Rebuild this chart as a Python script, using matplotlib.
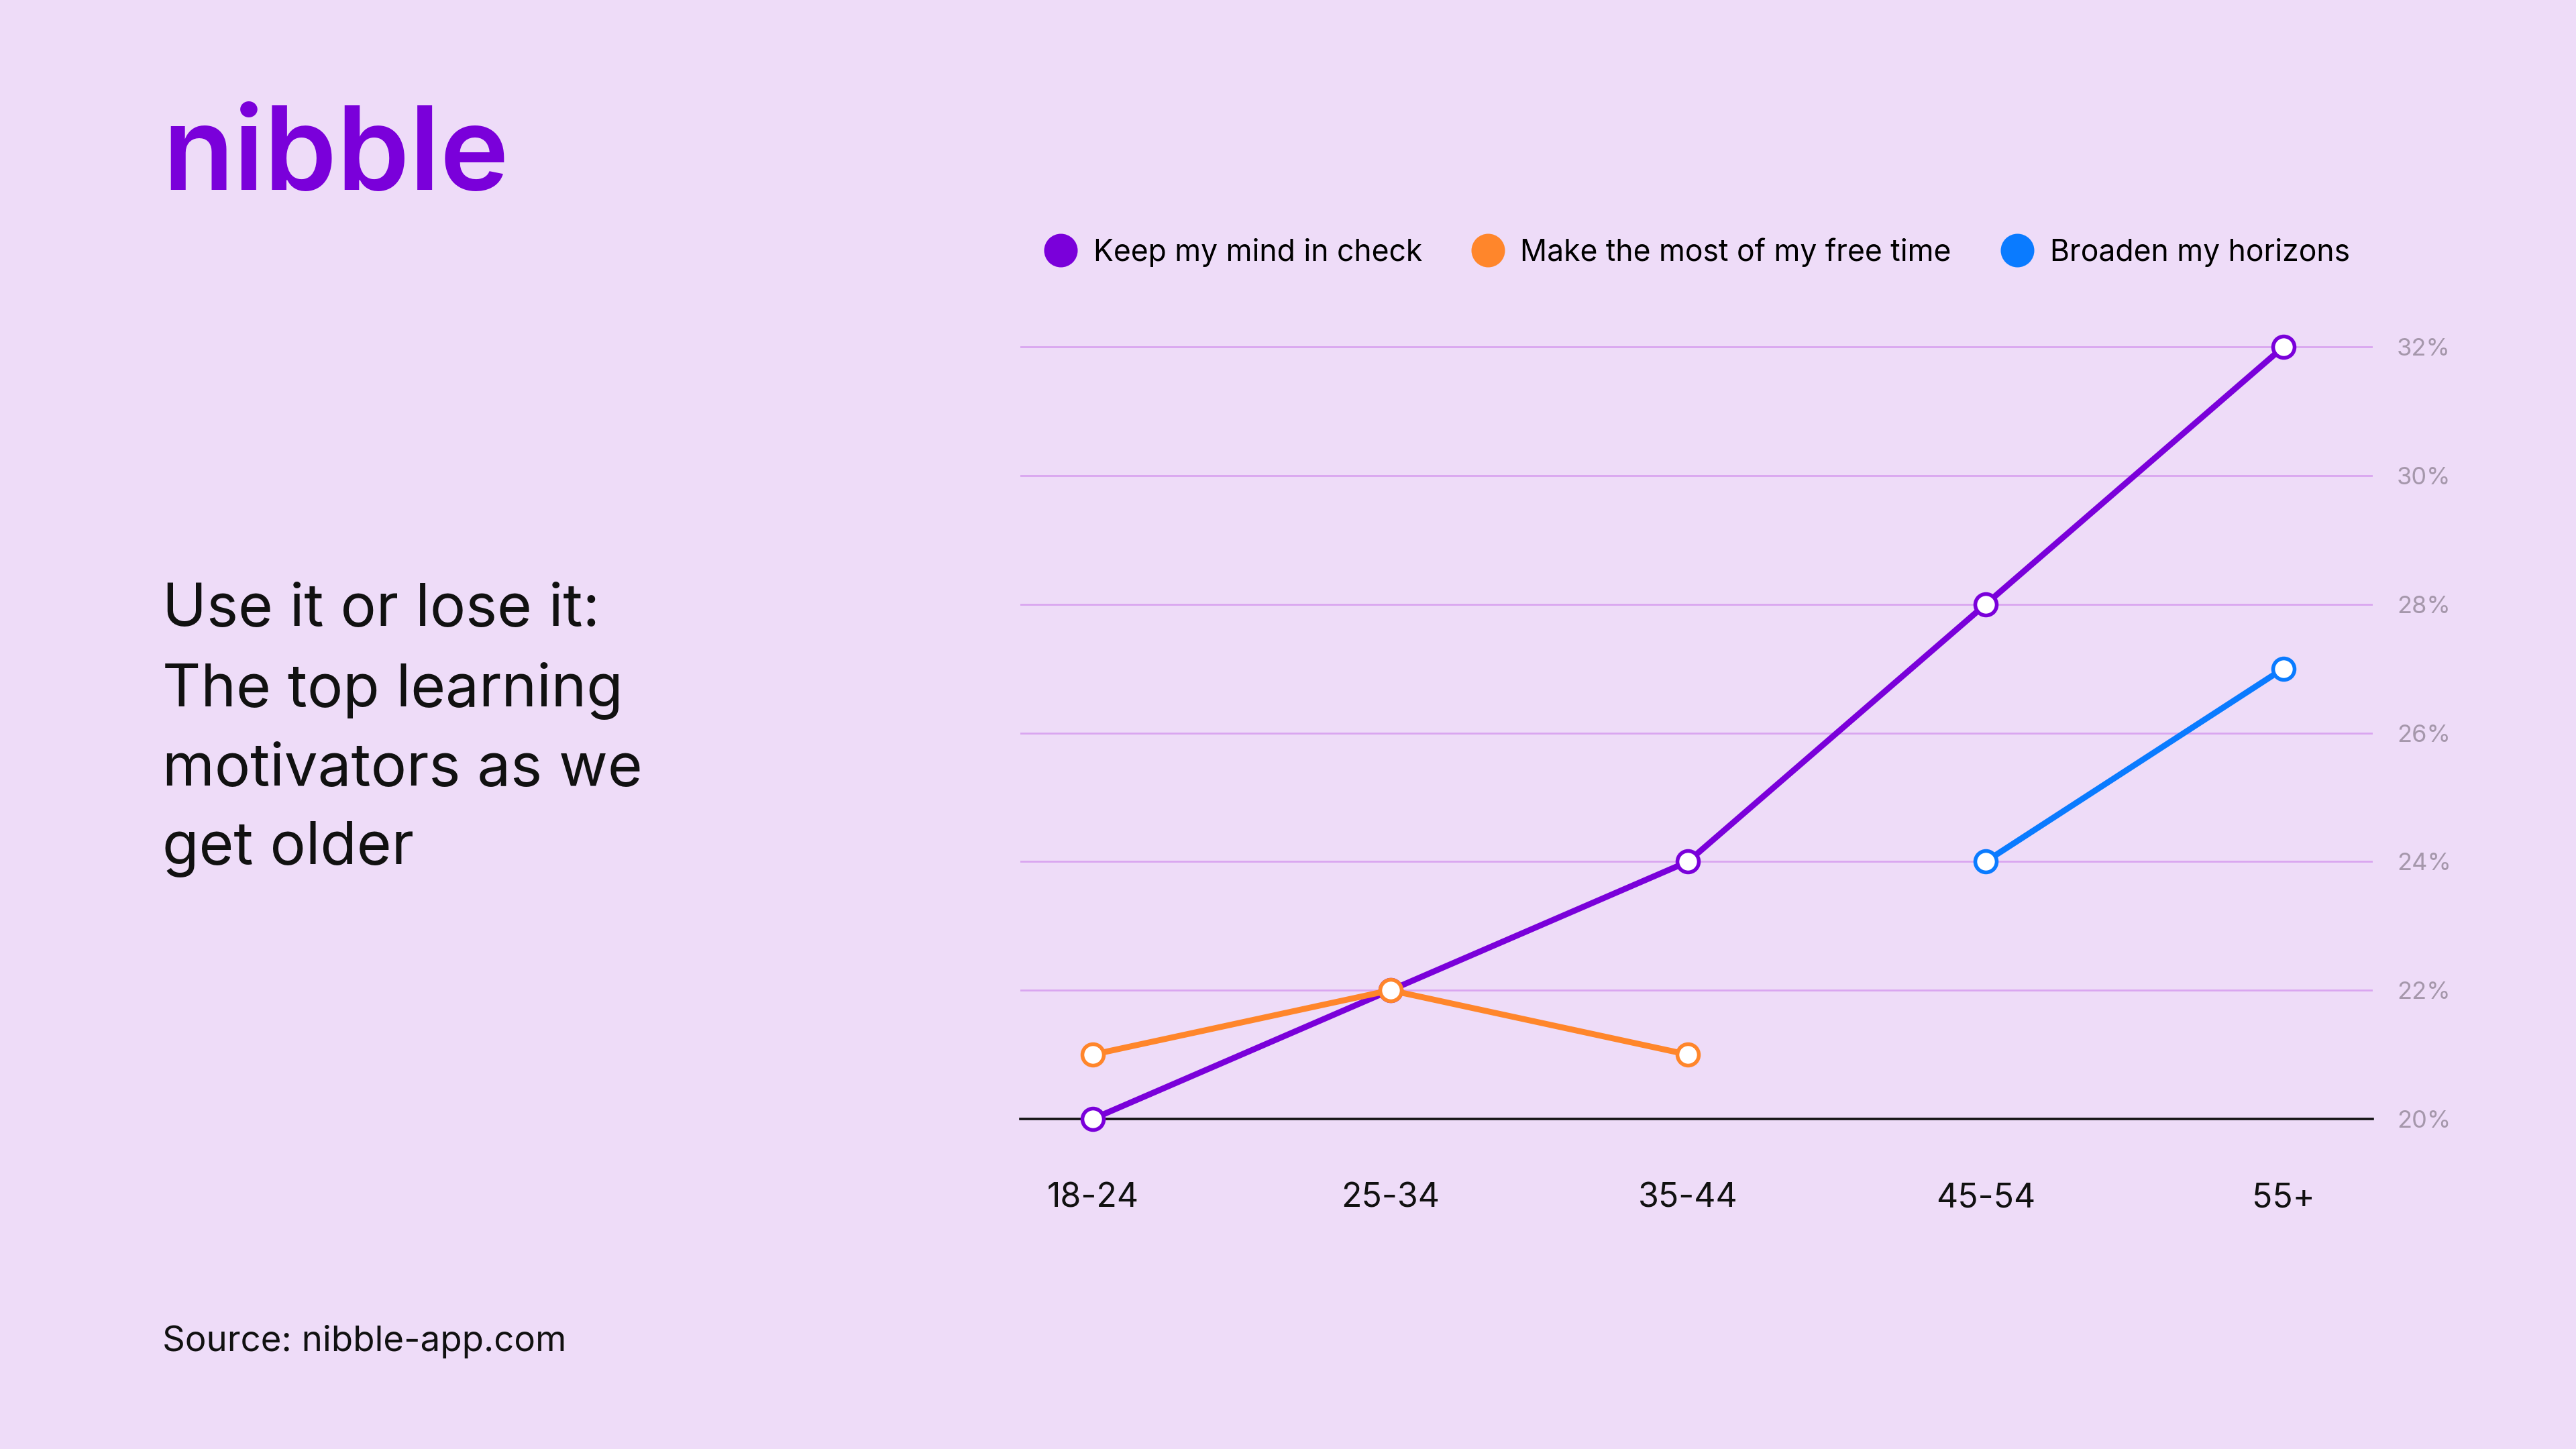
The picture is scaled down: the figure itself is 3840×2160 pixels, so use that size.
import matplotlib.pyplot as plt
from matplotlib.lines import Line2D

plt.rcParams['font.family'] = ['Inter', 'DejaVu Sans']

# data
age_groups = ["18-24", "25-34", "35-44", "45-54", "55+"]
mind_check = [20, 22, 24, 28, 32]
free_time = [21, 22, 21]
horizons = [24, 27]
y_ticks = [20, 22, 24, 26, 28, 30, 32]

bg = "#eedcf8"
purple = "#7a00da"
orange = "#ff862b"
blue = "#0a7bff"

fig = plt.figure(figsize=(19.2, 10.8), dpi=200, facecolor=bg)
ax = fig.add_axes([0.396, 0.2278, 0.525, 0.546])
ax.set_facecolor(bg)

x = list(range(len(age_groups)))
mk = dict(marker='o', markersize=11.5, markerfacecolor='white',
          markeredgewidth=2.0, linewidth=3.2, clip_on=False, zorder=3)
ax.plot(x, mind_check, color=purple, **mk)
ax.plot(x[:3], free_time, color=orange, **mk)
ax.plot(x[3:], horizons, color=blue, **mk)

ax.set_xlim(-0.244, 4.30)
ax.set_ylim(20, 32.3)
ax.set_xticks(x)
ax.set_xticklabels(age_groups, fontsize=18, color='#111111')
ax.set_yticks(y_ticks)
ax.set_yticklabels([f"{v}%" for v in y_ticks], fontsize=13, color='#a597ab')
ax.yaxis.tick_right()
ax.tick_params(axis='x', length=0, pad=34)
ax.tick_params(axis='y', length=0, pad=13)
ax.grid(axis='y', color='#d9a6f0', linewidth=1.0)
ax.set_axisbelow(True)
for s in ['top', 'left', 'right']:
    ax.spines[s].set_visible(False)
ax.spines['bottom'].set_color('#111111')
ax.spines['bottom'].set_linewidth(1.3)

handles = [Line2D([], [], linestyle='none', marker='o', markersize=17,
                  markerfacecolor=c, markeredgecolor=c)
           for c in [purple, orange, blue]]
fig.legend(handles, ["Keep my mind in check", "Make the most of my free time",
                     "Broaden my horizons"],
           loc='center', bbox_to_anchor=(0.659, 0.826), ncol=3, frameon=False,
           fontsize=16, handlelength=1.0, handletextpad=0.6, columnspacing=1.7)

fig.text(0.063, 0.869, "nibble", fontsize=62.5, fontweight='semibold', color=purple,
         va='baseline', ha='left')
fig.text(0.063, 0.598, "Use it or lose it:\nThe top learning\nmotivators as we\nget older",
         fontsize=32, color='#111111', va='top', ha='left', linespacing=1.54)
fig.text(0.063, 0.0676, "Source: nibble-app.com", fontsize=19, color='#111111',
         va='baseline', ha='left')

fig.savefig("out.png", dpi=200, facecolor=bg)
